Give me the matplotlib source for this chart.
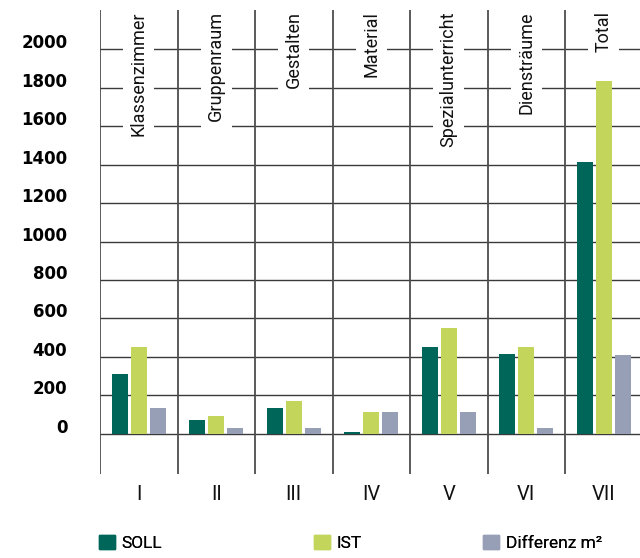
import numpy as np
import matplotlib.pyplot as plt
import matplotlib.transforms as mtransforms
from matplotlib.patches import Patch

plt.rcParams['font.family'] = ['Roboto', 'DejaVu Sans']

# Daten
bereiche = ['Klassenzimmer', 'Gruppenraum', 'Gestalten', 'Material',
            'Spezialunterricht', 'Diensträume', 'Total']
roemisch = ['I', 'II', 'III', 'IV', 'V', 'VI', 'VII']
soll = [310, 73, 135, 10, 452, 416, 1413]
ist = [452, 94, 171, 114, 551, 452, 1834]
differenz = [135, 33, 33, 114, 114, 33, 410]
y_ticks = list(range(0, 2001, 200))

farbe_soll = '#00665a'
farbe_ist = '#c3d55b'
farbe_diff = '#979fb7'

fig = plt.figure(figsize=(6.4, 5.58), dpi=100)
ax = fig.add_axes([100 / 640, 84 / 558, 540 / 640, 464 / 558])

x = np.arange(len(bereiche)) + 0.5
breite = 0.206
abstand = 0.245

# Raster
for y in y_ticks:
    ax.axhline(y, color='#3a3a3a', lw=1.0, zorder=1)
for i in range(len(bereiche)):
    ax.axvline(i, color='#4d4d4d', lw=1.3, zorder=1)

ax.bar(x - abstand, soll, breite, color=farbe_soll, zorder=3)
ax.bar(x, ist, breite, color=farbe_ist, zorder=3)
ax.bar(x + abstand, differenz, breite, color=farbe_diff, zorder=3)

# Bereichsnamen senkrecht oben, mit weissem Hintergrund
for xi, name in zip(x, bereiche):
    ax.text(xi, 2196, name, rotation=90, ha='center', va='top', fontsize=13,
            color='#111111', zorder=2,
            bbox=dict(boxstyle='square,pad=0.35', facecolor='white', edgecolor='none'))

ax.set_xlim(0, 540 / 77.5)
ax.set_ylim(-208, 2203)

ax.set_yticks(y_ticks)
ax.set_yticklabels([str(v) for v in y_ticks], fontweight='bold',
                   fontsize=12, family='DejaVu Sans')
ax.tick_params(axis='y', length=0, pad=23.5)
versatz = mtransforms.ScaledTranslation(0, 8 / 100, fig.dpi_scale_trans)
for lab in ax.get_yticklabels():
    lab.set_transform(lab.get_transform() + versatz)

ax.set_xticks(x)
ax.set_xticklabels(roemisch, fontsize=14.5, color='#111111')
ax.tick_params(axis='x', length=0, pad=8)

for s in ax.spines.values():
    s.set_visible(False)

# Legende
eintraege = [('SOLL', farbe_soll, 99), ('IST', farbe_ist, 314),
             ('Differenz m²', farbe_diff, 483)]
for text, farbe, xpos in eintraege:
    leg = fig.legend(handles=[Patch(color=farbe, label=text)],
                     loc='center left', bbox_to_anchor=(xpos / 640, 1 - 543 / 558),
                     frameon=False, fontsize=12.5, handlelength=0.9,
                     handleheight=0.9, handletextpad=0.4, borderpad=0,
                     borderaxespad=0)
    fig.add_artist(leg)

fig.savefig('out.png', dpi=100)
